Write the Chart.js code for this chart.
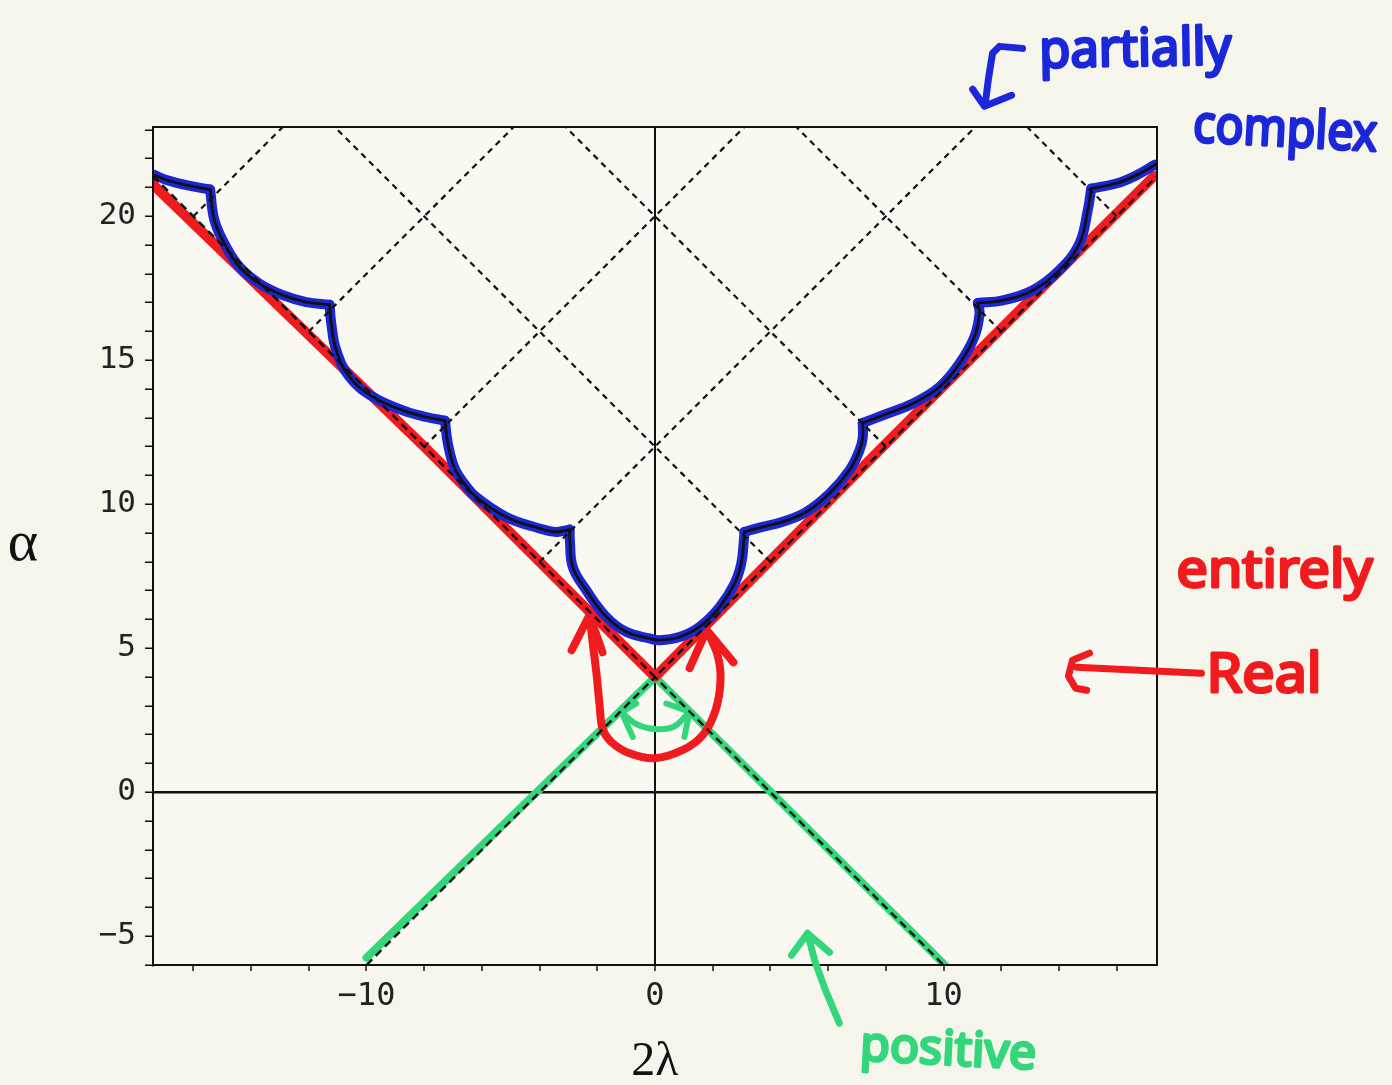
<!DOCTYPE html>
<html lang="en">
<head>
<meta charset="UTF-8">
<title>α against 2λ</title>
<script src="https://cdn.jsdelivr.net/npm/chart.js@4.4.0/dist/chart.umd.min.js"></script>
<style>
  html, body { margin: 0; padding: 0; background: #f5f5ec; }
  #wrap { width: 1392px; height: 1085px; }
</style>
</head>
<body>
<div id="wrap"><canvas id="chart" width="1392" height="1085"></canvas></div>
<script>
// axis ranges (x = 2λ, y = α) and tick spacing
const xRange = [-17.4, 17.4];
const yRange = [-6, 23.1];
const xTickStep = 2, xLabelEvery = 10;
const yTickStep = 1, yLabelEvery = 5;

// dashed guide lines
const upperV = [[-17.4, 21.4], [0, 4], [17.4, 21.4]];
const lowerV = [[-10, -6], [0, 4], [10, -6]];
const risingLines = [
  [[-4, 8], [11.1, 23.1]],
  [[-8, 12], [3.1, 23.1]],
  [[-12, 16], [-4.9, 23.1]],
  [[-16, 20], [-12.9, 23.1]]
];
const fallingLines = [
  [[4, 8], [-11.1, 23.1]],
  [[8, 12], [-3.1, 23.1]],
  [[12, 16], [4.9, 23.1]],
  [[16, 20], [12.9, 23.1]]
];

// boundary curve, one arc between each pair of cusps
const boundaryArcs = [
  [[-17.4, 21.45], [-16.9, 21.25], [-16.2, 21.07], [-15.42, 20.93]],
  [[-15.42, 20.93], [-15.27, 19.86], [-14.86, 18.93], [-14.4, 18.24], [-13.71, 17.66], [-12.9, 17.26], [-12.09, 17.02], [-11.28, 16.93]],
  [[-11.28, 16.93], [-11.22, 16.27], [-11.05, 15.35], [-10.59, 14.42], [-9.78, 13.73], [-8.74, 13.26], [-7.93, 13.03], [-7.28, 12.9]],
  [[-7.28, 12.9], [-7.18, 12.11], [-6.95, 11.26], [-6.6, 10.7], [-6.2, 10.25], [-5.16, 9.56], [-4.0, 9.16], [-3.42, 9.04], [-2.96, 9.12]],
  [[-2.96, 9.12], [-2.95, 8.75], [-2.85, 7.82], [-2.38, 7.01], [-1.69, 6.09], [-1.0, 5.57], [-0.19, 5.34], [0.16, 5.28], [0.85, 5.39], [1.54, 5.74], [2.24, 6.43], [2.76, 7.25], [2.99, 7.94], [3.08, 8.75], [3.1, 9.04]],
  [[3.1, 9.04], [3.62, 9.19], [4.43, 9.39], [5.24, 9.73], [6.05, 10.37], [6.74, 11.18], [7.09, 11.88], [7.2, 12.3], [7.2, 12.82]],
  [[7.2, 12.82], [7.9, 13.09], [8.94, 13.5], [9.86, 14.07], [10.55, 14.88], [11.07, 15.81], [11.25, 16.62], [11.19, 16.99]],
  [[11.19, 16.99], [12.06, 17.08], [13.1, 17.43], [14.02, 18.13], [14.71, 19.05], [15.0, 20.21], [15.12, 20.96]],
  [[15.12, 20.96], [15.99, 21.14], [16.68, 21.42], [17.35, 21.8]]
];

// marker overlays
const redTrace = [[-17.5, 21.2], [-8, 12.0], [0, 4.0], [8, 12.1], [17.3, 21.4]];
const redLoop = [[-2.27, 6.15], [-2.17, 5.28], [-2.03, 4.13], [-1.92, 3.02], [-1.82, 2.22], [-1.51, 1.74], [-0.88, 1.35], [-0.02, 1.18], [0.95, 1.46], [1.65, 1.98], [2.1, 2.85], [2.27, 3.89], [2.17, 4.76], [1.79, 5.63]];
const redLoopHeads = [
  [[-2.89, 4.93], [-2.27, 6.15], [-1.82, 4.86]],
  [[1.2, 4.31], [1.79, 5.63], [2.72, 4.51]]
];
const greenTrace = [[-10, -5.75], [0, 4], [10.05, -6]];
const greenArc = [[-1.16, 2.78], [-0.64, 2.36], [0.05, 2.19], [0.68, 2.29], [1.2, 2.8]];
const greenArcHeads = [
  [[-0.65, 3.08], [-1.16, 2.78], [-0.77, 1.92]],
  [[0.39, 3.08], [1.2, 2.8], [1.02, 1.92]]
];

// hand-written notes around the plot (data units)
const noteStrokes = [
  { color: '#1b27d9', pts: [[12.74, 25.83], [11.94, 25.9], [11.7, 25.66], [11.56, 24.79], [11.44, 23.86]] },
  { color: '#1b27d9', pts: [[11.01, 24.41], [11.42, 23.82], [12.36, 24.2]] },
  { color: '#ef1b1e', pts: [[18.94, 4.13], [14.61, 4.34]] },
  { color: '#ef1b1e', pts: [[15.06, 4.83], [14.47, 4.58], [14.33, 4.03], [14.58, 3.61], [14.96, 3.54]] },
  { color: '#34d67b', pts: [[6.39, -8.02], [5.91, -6.88], [5.53, -5.83], [5.29, -4.9]] },
  { color: '#34d67b', pts: [[4.73, -5.66], [5.29, -4.9], [6.05, -5.56]] }
];
const noteTexts = [
  { text: 'partially', x: 13.33, y: 25.17, width: 192, size: 52, rot: -1, color: '#1b27d9' },
  { text: 'complex', x: 18.63, y: 22.6, width: 184, size: 52, rot: 3, color: '#1b27d9' },
  { text: 'entirely', x: 18.08, y: 7.12, width: 196, size: 52, rot: 0, color: '#ef1b1e' },
  { text: 'Real', x: 19.12, y: 3.47, width: 115, size: 54, rot: 0, color: '#ef1b1e' },
  { text: 'positive', x: 7.09, y: -9.3, width: 176, size: 48, rot: 3, color: '#34d67b' }
];

const BLUE = '#1c26d2', RED = '#ef1b1e', GREEN = '#34d67b', INK = '#111';

const toXY = pts => pts.map(([x, y]) => ({ x, y }));
function lineSet(pts, color, width, order, extra) {
  return Object.assign({
    data: toXY(pts),
    borderColor: color,
    borderWidth: width,
    pointRadius: 0,
    fill: false,
    tension: 0,
    borderCapStyle: 'round',
    borderJoinStyle: 'round',
    order: order
  }, extra || {});
}

const datasets = [];
// order: larger numbers are painted first
datasets.push(lineSet(greenTrace, GREEN, 8, 90));
datasets.push(lineSet(redTrace, RED, 10, 80));
datasets.push(lineSet(redLoop, RED, 8, 70, { tension: 0.35 }));
redLoopHeads.forEach(h => datasets.push(lineSet(h, RED, 8, 70)));
datasets.push(lineSet(greenArc, GREEN, 6, 70, { tension: 0.35 }));
greenArcHeads.forEach(h => datasets.push(lineSet(h, GREEN, 6, 70)));
boundaryArcs.forEach(a => datasets.push(lineSet(a, BLUE, 10, 60, { tension: 0.4 })));
datasets.push(lineSet(upperV, INK, 2.4, 50, { borderDash: [8, 5], borderCapStyle: 'butt' }));
datasets.push(lineSet(lowerV, INK, 2.4, 50, { borderDash: [8, 5], borderCapStyle: 'butt' }));
risingLines.concat(fallingLines).forEach(l =>
  datasets.push(lineSet(l, INK, 2.2, 50, { borderDash: [6, 5], borderCapStyle: 'butt' })));
boundaryArcs.forEach(a => datasets.push(lineSet(a, INK, 2.8, 40, { tension: 0.4 })));

const minus = v => (v < 0 ? '\u2212' + Math.abs(v) : String(v));

// paper, frame, axis symbols and the hand-written notes
const paperPlugin = {
  id: 'paper',
  beforeDraw(chart) {
    const { ctx, chartArea: a } = chart;
    ctx.save();
    ctx.fillStyle = '#f5f5ec';
    ctx.fillRect(0, 0, chart.width, chart.height);
    ctx.fillStyle = '#f9f9f2';
    ctx.fillRect(a.left, a.top, a.right - a.left, a.bottom - a.top);
    ctx.restore();
  },
  afterDraw(chart) {
    const { ctx, chartArea: a, scales } = chart;
    const xs = scales.x, ys = scales.y;
    ctx.save();
    ctx.strokeStyle = INK;
    ctx.lineWidth = 2;
    ctx.strokeRect(a.left, a.top, a.right - a.left, a.bottom - a.top);

    ctx.fillStyle = '#111';
    ctx.textAlign = 'center';
    ctx.textBaseline = 'middle';
    ctx.font = '58px "Liberation Serif"';
    ctx.fillText('\u03b1', a.left - 130, ys.getPixelForValue(8.6));
    ctx.font = '48px "Liberation Serif"';
    ctx.fillText('2\u03bb', xs.getPixelForValue(0), a.bottom + 97);

    ctx.lineCap = 'round';
    ctx.lineJoin = 'round';
    noteStrokes.forEach(s => {
      ctx.strokeStyle = s.color;
      ctx.lineWidth = 7;
      ctx.beginPath();
      s.pts.forEach(([x, y], i) => {
        const px = xs.getPixelForValue(x), py = ys.getPixelForValue(y);
        if (i === 0) ctx.moveTo(px, py); else ctx.lineTo(px, py);
      });
      ctx.stroke();
    });

    noteTexts.forEach(n => {
      ctx.save();
      ctx.translate(xs.getPixelForValue(n.x), ys.getPixelForValue(n.y));
      ctx.rotate(n.rot * Math.PI / 180);
      ctx.font = n.size + 'px "Noto Sans"';
      const w = ctx.measureText(n.text).width;
      ctx.scale(n.width / w, 1);
      ctx.textAlign = 'left';
      ctx.textBaseline = 'alphabetic';
      ctx.fillStyle = n.color;
      ctx.strokeStyle = n.color;
      ctx.lineWidth = 3;
      ctx.fillText(n.text, 0, 0);
      ctx.strokeText(n.text, 0, 0);
      ctx.restore();
    });
    ctx.restore();
  }
};

const zeroLine = c => (c.tick && c.tick.value === 0 ? INK : 'rgba(0,0,0,0)');

new Chart(document.getElementById('chart'), {
  type: 'line',
  data: { datasets },
  plugins: [paperPlugin],
  options: {
    responsive: false,
    animation: false,
    events: [],
    layout: { padding: { left: 0, top: 127, right: 235, bottom: 0 } },
    plugins: { legend: { display: false }, tooltip: { enabled: false } },
    scales: {
      x: {
        type: 'linear',
        min: xRange[0],
        max: xRange[1],
        afterFit: s => { s.height = 120; },
        border: { display: true, color: INK, width: 2 },
        grid: { drawOnChartArea: true, color: zeroLine, lineWidth: 2, tickColor: INK, tickLength: 6, tickWidth: 1.5 },
        ticks: {
          stepSize: xTickStep,
          includeBounds: false,
          autoSkip: false,
          maxRotation: 0,
          padding: 6,
          color: '#222',
          font: { family: '"DejaVu Sans Mono"', size: 32 },
          callback: v => (v % xLabelEvery === 0 ? minus(v) : '')
        }
      },
      y: {
        type: 'linear',
        min: yRange[0],
        max: yRange[1],
        afterFit: s => { s.width = 153; },
        border: { display: true, color: INK, width: 2 },
        grid: { drawOnChartArea: true, color: zeroLine, lineWidth: 2.5, tickColor: INK, tickLength: 8, tickWidth: 1.5 },
        ticks: {
          stepSize: yTickStep,
          includeBounds: false,
          autoSkip: false,
          padding: 9,
          color: '#222',
          font: { family: '"DejaVu Sans Mono"', size: 31 },
          callback: v => (v % yLabelEvery === 0 ? minus(v) : '')
        }
      }
    }
  }
});
</script>
</body>
</html>
